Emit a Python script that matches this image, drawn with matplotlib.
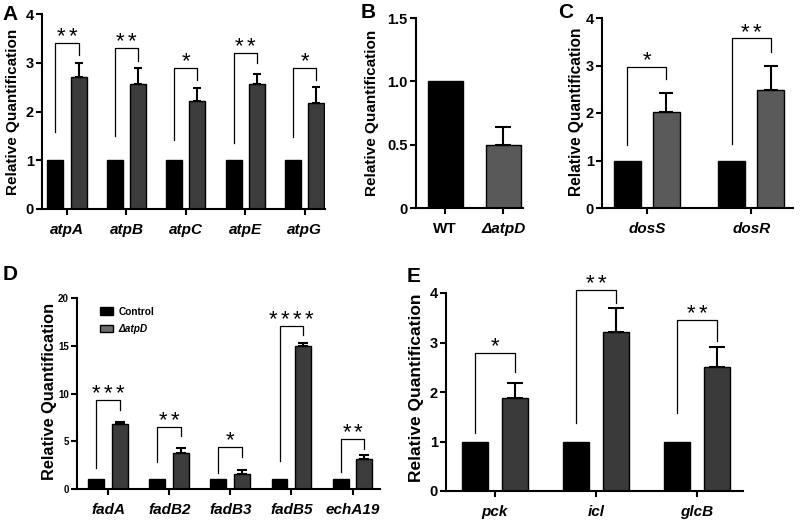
import numpy as np
import matplotlib
matplotlib.use('Agg')
import matplotlib.pyplot as plt
from matplotlib.patches import Patch

plt.rcParams['font.family'] = ['Liberation Sans', 'DejaVu Sans']

# panel A
a_genes = ['atpA', 'atpB', 'atpC', 'atpE', 'atpG']
a_mut = [2.71, 2.56, 2.22, 2.56, 2.17]
a_err = [0.28, 0.34, 0.26, 0.21, 0.34]
a_stars = ['**', '**', '*', '**', '*']
a_brk = [(1.58, 3.4, 3.16), (1.5, 3.3, 3.04), (1.42, 2.9, 2.65), (1.35, 3.2, 3.0), (1.48, 2.9, 2.65)]

# panel B
b_groups = ['WT', 'ΔatpD']
b_vals = [1.0, 0.5]
b_err = [0.0, 0.14]

# panel C
c_genes = ['dosS', 'dosR']
c_mut = [2.03, 2.48]
c_err = [0.4, 0.5]
c_stars = ['*', '**']
c_brk = [(1.33, 2.97, 2.72), (1.35, 3.57, 3.28)]

# panel D
d_genes = ['fadA', 'fadB2', 'fadB3', 'fadB5', 'echA19']
d_mut = [6.8, 3.77, 1.57, 15.0, 3.1]
d_err = [0.2, 0.5, 0.43, 0.3, 0.46]
d_stars = ['***', '**', '*', '****', '**']
d_brk = [(2.2, 9.3, 8.3), (2.85, 6.5, 5.5), (1.7, 4.4, 3.4), (2.9, 17.1, 16.1), (1.8, 5.2, 4.2)]

# panel E
e_genes = ['pck', 'icl', 'glcB']
e_mut = [1.88, 3.21, 2.5]
e_err = [0.3, 0.49, 0.41]
e_stars = ['*', '**', '**']
e_brk = [(1.17, 2.79, 2.4), (1.37, 4.07, 3.8), (1.57, 3.45, 3.03)]

W, H = 800, 521
fig = plt.figure(figsize=(8, 5.21), dpi=100)


def make_ax(l, r, b, t):
    # pixel box -> figure fraction
    ax = fig.add_axes([l / W, 1 - b / H, (r - l) / W, (b - t) / H])
    for s in ['top', 'right']:
        ax.spines[s].set_visible(False)
    for s in ['left', 'bottom']:
        ax.spines[s].set_linewidth(1.5)
    ax.tick_params(width=1.5, length=4, pad=2)
    return ax


def style_ticks(ax, labels, size=11, ysize=10.5):
    ax.set_xticks(np.arange(len(labels)))
    ax.set_xticklabels(labels, fontsize=size, fontweight='bold', fontstyle='italic')
    ax.tick_params(axis='x', pad=6)
    for t in ax.get_yticklabels():
        t.set_fontweight('bold')
        t.set_fontsize(ysize)


def ylab(px, py, size):
    fig.text(px / W, 1 - py / H, 'Relative Quantification', rotation=90, fontsize=size,
             fontweight='bold', ha='center', va='center')


def pairs(ax, genes, mut, err, stars, brk, off, width, grey, cap):
    x = np.arange(len(genes))
    ctrl = np.ones(len(genes))
    ax.bar(x - off, ctrl, width, color='black', edgecolor='black', linewidth=1)
    ax.bar(x + off, mut, width, color=grey, edgecolor='black', linewidth=1,
           yerr=[np.zeros(len(genes)), err], capsize=cap,
           error_kw=dict(elinewidth=1.5, capthick=1.5, ecolor='black'))
    for i in range(len(genes)):
        s, t, e = brk[i]
        ax.plot([x[i] - off, x[i] - off, x[i] + off, x[i] + off], [s, t, t, e],
                color='black', lw=0.9, clip_on=False)
        k = len(stars[i])
        for j in range(k):
            ax.annotate('*', xy=(x[i], t), xytext=((j - (k - 1) / 2) * 8.6, 0.5),
                        textcoords='offset points', ha='center', va='baseline',
                        fontsize=16, annotation_clip=False)


# A
axA = make_ax(42, 325, 209, 14)
pairs(axA, a_genes, a_mut, a_err, a_stars, a_brk, 0.195, 0.27, '#3c3c3c', 3)
axA.set_xlim(-0.42, 4.34)
axA.set_ylim(0, 4)
axA.set_yticks([0, 1, 2, 3, 4])
style_ticks(axA, a_genes)
ylab(13, 112, 11)

# B
axB = make_ax(416, 523, 208, 18)
axB.bar([0], b_vals[:1], 0.6, color='black', edgecolor='black', linewidth=1)
axB.bar([1], b_vals[1:], 0.6, color='#595959', edgecolor='black', linewidth=1,
        yerr=[[0], b_err[1:]], capsize=6, error_kw=dict(elinewidth=1.5, capthick=1.5, ecolor='black'))
axB.set_xlim(-0.5, 1.34)
axB.set_ylim(0, 1.5)
axB.set_yticks([0, 0.5, 1.0, 1.5])
axB.set_yticklabels(['0', '0.5', '1.0', '1.5'])
style_ticks(axB, b_groups)
axB.get_xticklabels()[0].set_fontstyle('normal')
ylab(372, 113, 11)

# C
axC = make_ax(602, 793, 208, 18)
pairs(axC, c_genes, c_mut, c_err, c_stars, c_brk, 0.187, 0.26, '#5a5a5a', 4.7)
axC.set_xlim(-0.43, 1.4)
axC.set_ylim(0, 4)
axC.set_yticks([0, 1, 2, 3, 4])
style_ticks(axC, c_genes)
ylab(577, 112, 11.2)

# D
axD = make_ax(77, 380, 489, 298)
pairs(axD, d_genes, d_mut, d_err, d_stars, d_brk, 0.195, 0.26, '#3c3c3c', 3.6)
axD.set_xlim(-0.51, 4.45)
axD.set_ylim(0, 20)
axD.set_yticks([0, 5, 10, 15, 20])
style_ticks(axD, d_genes, ysize=7)
ylab(50, 391, 11.8)
leg = axD.legend(handles=[Patch(facecolor='black', edgecolor='black'),
                          Patch(facecolor='#6e6e6e', edgecolor='black')],
                 labels=['Control', 'ΔatpD'], loc='upper left', bbox_to_anchor=(0.076, 0.955),
                 frameon=False, fontsize=7.3, handlelength=1.3, handleheight=0.7,
                 labelspacing=0.75, handletextpad=0.5, borderpad=0, borderaxespad=0)
for t in leg.get_texts():
    t.set_fontweight('bold')
leg.get_texts()[1].set_fontstyle('italic')

# E
axE = make_ax(446, 743, 491, 293)
pairs(axE, e_genes, e_mut, e_err, e_stars, e_brk, 0.195, 0.26, '#3a3a3a', 6)
axE.set_xlim(-0.485, 2.455)
axE.set_ylim(0, 4)
axE.set_yticks([0, 1, 2, 3, 4])
style_ticks(axE, e_genes)
ylab(417, 388, 12.5)

for lab, px, py in [('A', 10, 15), ('B', 368, 13), ('C', 566, 12), ('D', 10, 275), ('E', 414, 276)]:
    fig.text(px / W, 1 - py / H, lab, fontsize=15, fontweight='bold', ha='center', va='center')

fig.savefig('out.png', dpi=100)
